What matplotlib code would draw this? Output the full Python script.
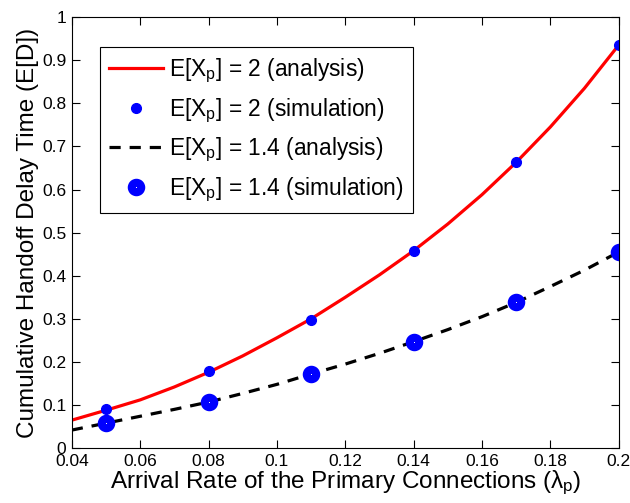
import numpy as np
import matplotlib.pyplot as plt

plt.rcParams['font.family'] = ['Liberation Sans', 'DejaVu Sans']
plt.rcParams['mathtext.fontset'] = 'custom'
plt.rcParams['mathtext.rm'] = 'Liberation Sans'
plt.rcParams['mathtext.it'] = 'Liberation Sans'

# analysis curves
lam = [0.04, 0.05, 0.06, 0.07, 0.08, 0.09, 0.10, 0.11, 0.12, 0.13,
       0.14, 0.15, 0.16, 0.17, 0.18, 0.19, 0.20]
ana_2 = [0.065, 0.088, 0.112, 0.142, 0.176, 0.214, 0.256, 0.300, 0.350, 0.402,
         0.458, 0.520, 0.588, 0.663, 0.745, 0.835, 0.935]
ana_14 = [0.042, 0.058, 0.074, 0.090, 0.107, 0.127, 0.148, 0.172, 0.195, 0.220,
          0.247, 0.275, 0.305, 0.338, 0.375, 0.413, 0.455]

# simulation points
lam_sim = [0.05, 0.08, 0.11, 0.14, 0.17, 0.20]
sim_2 = [0.092, 0.178, 0.298, 0.457, 0.665, 0.935]
sim_14 = [0.058, 0.108, 0.172, 0.246, 0.338, 0.455]

fig = plt.figure(figsize=(6.3, 5.03), dpi=100)
ax = fig.add_axes([0.114, 0.109, 0.868, 0.857])

ax.plot(lam, ana_2, '-', color='red', lw=2.3, label=r'E[X$_\mathrm{p}$] = 2 (analysis)')
ax.plot(lam_sim, sim_2, 'o', color='blue', ms=7, label=r'E[X$_\mathrm{p}$] = 2 (simulation)')
ax.plot(lam, ana_14, '--', color='black', lw=2.3, dashes=(3.5, 2.8),
        label=r'E[X$_\mathrm{p}$] = 1.4 (analysis)')
ax.plot(lam_sim, sim_14, 'o', mfc='white', mec='blue', mew=5.8, ms=6.8,
        label=r'E[X$_\mathrm{p}$] = 1.4 (simulation)')

ax.set_xlim(0.04, 0.2)
ax.set_ylim(0, 1)
ax.set_xticks(np.arange(0.04, 0.201, 0.02))
ax.set_xticklabels(['0.04', '0.06', '0.08', '0.1', '0.12', '0.14', '0.16', '0.18', '0.2'])
ax.set_yticks(np.arange(0, 1.01, 0.1))
ax.set_yticklabels(['0', '0.1', '0.2', '0.3', '0.4', '0.5', '0.6', '0.7', '0.8', '0.9', '1'])
ax.tick_params(direction='in', top=True, right=True, length=6, labelsize=12.5, pad=4)
ax.set_xlabel(r'Arrival Rate of the Primary Connections ($\lambda_\mathrm{p}$)', fontsize=17.5, labelpad=0)
ax.set_ylabel('Cumulative Handoff Delay Time (E[D])', fontsize=17.5, labelpad=2)

leg = ax.legend(loc='upper left', bbox_to_anchor=(0.051, 0.93), fontsize=16.4,
                fancybox=False, edgecolor='black', framealpha=1,
                handlelength=2.4, borderpad=0.4, labelspacing=0.5, handletextpad=0.25,
                borderaxespad=0)
leg.get_frame().set_linewidth(0.8)

fig.savefig('out.png', dpi=100)
